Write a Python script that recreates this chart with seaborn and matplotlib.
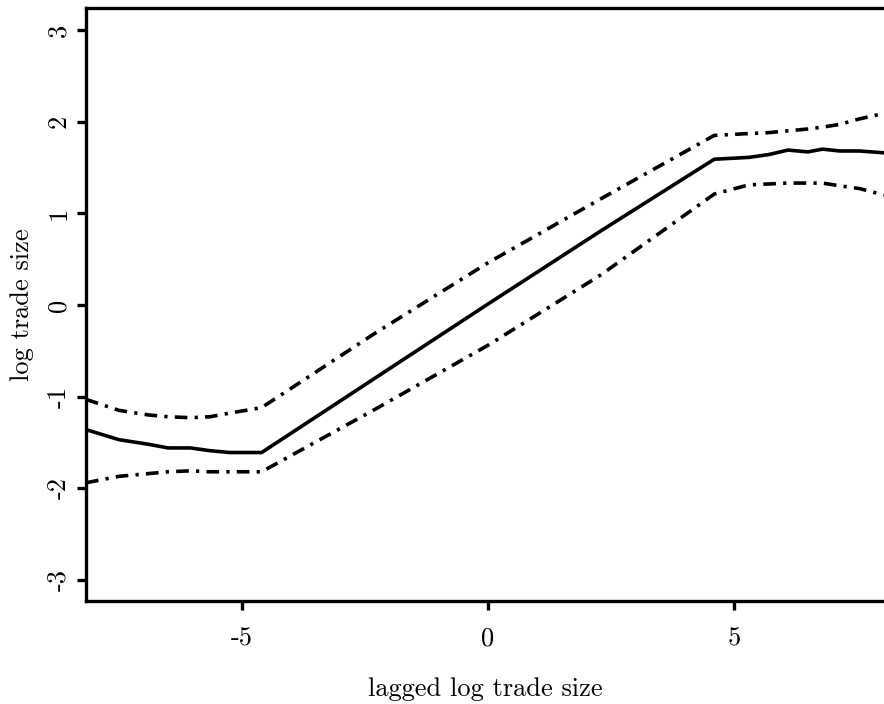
import numpy as np
import pandas as pd
import matplotlib
matplotlib.use("Agg")
import matplotlib.pyplot as plt
import seaborn as sns

# ---- data ----
x_vals = [-8.17, -7.5, -6.9, -6.5, -6.05, -5.65, -5.25, -4.6, -2.3, 0.0, 2.3,
          4.6, 5.3, 5.7, 6.1, 6.5, 6.8, 7.15, 7.55, 8.05]
fit = [-1.36, -1.47, -1.52, -1.56, -1.56, -1.59, -1.61, -1.61, -0.80, 0.01, 0.81,
       1.59, 1.61, 1.64, 1.69, 1.67, 1.70, 1.68, 1.68, 1.66]
upper = [-1.03, -1.15, -1.20, -1.22, -1.23, -1.22, -1.18, -1.12, -0.31, 0.46, 1.16,
         1.85, 1.87, 1.88, 1.90, 1.92, 1.94, 1.97, 2.03, 2.09]
lower = [-1.94, -1.87, -1.84, -1.82, -1.81, -1.82, -1.82, -1.82, -1.14, -0.44, 0.33,
         1.21, 1.31, 1.32, 1.33, 1.33, 1.33, 1.30, 1.27, 1.20]
x_ticks = [-5, 0, 5]
y_ticks = [-3, -2, -1, 0, 1, 2, 3]
x_label = "lagged log trade size"
y_label = "log trade size"

sns.set_theme(style="white")
plt.rcParams["font.family"] = ["cmr10", "DejaVu Serif"]
plt.rcParams["axes.unicode_minus"] = False
plt.rcParams["mathtext.fontset"] = "cm"
plt.rcParams["axes.formatter.use_mathtext"] = True

fig = plt.figure(figsize=(8.84, 7.04), dpi=100)
ax = fig.add_axes([86 / 884, 1 - 601 / 704, 1 - 86 / 884, (601 - 8) / 704])

df = pd.DataFrame({"x": x_vals, "fit": fit, "upper": upper, "lower": lower})
lw = 2.6
dashdot = (0, (3.5, 2.0, 0.9, 2.0))
sns.lineplot(data=df, x="x", y="fit", ax=ax, color="black", lw=lw,
             estimator=None, sort=False)
sns.lineplot(data=df, x="x", y="upper", ax=ax, color="black", lw=lw,
             linestyle=dashdot, estimator=None, sort=False)
sns.lineplot(data=df, x="x", y="lower", ax=ax, color="black", lw=lw,
             linestyle=dashdot, estimator=None, sort=False)

ax.set_xlim(-8.17, 8.05)
ax.set_ylim(-3.23, 3.24)
ax.set_xticks(x_ticks)
ax.set_yticks(y_ticks)
ax.set_xticklabels([str(v) for v in x_ticks])
ax.set_yticklabels([str(v) for v in y_ticks], rotation=90, va="center")

for side in ["left", "bottom", "top"]:
    ax.spines[side].set_visible(True)
    ax.spines[side].set_color("black")
    ax.spines[side].set_linewidth(2.4)
ax.spines["right"].set_visible(False)

ax.tick_params(axis="both", which="major", direction="out", length=6.5,
               width=2.4, color="black", labelsize=19, labelcolor="black")
ax.tick_params(axis="x", pad=12, bottom=True)
ax.tick_params(axis="y", pad=4.5, left=True)

ax.set_xlabel(x_label, fontsize=19, color="black", labelpad=19)
ax.set_ylabel(y_label, fontsize=19, color="black", labelpad=9)
ax.grid(False)

fig.savefig("out.png", dpi=100)
